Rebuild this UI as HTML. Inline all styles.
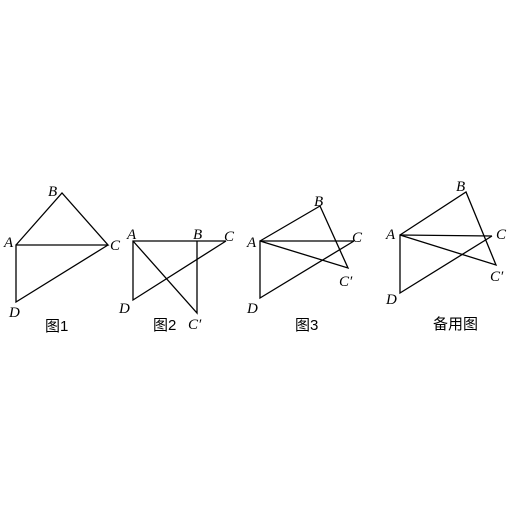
<!DOCTYPE html>
<html><head><meta charset="utf-8"><style>
html,body{margin:0;padding:0;background:#fff;}
svg{display:block;}
text{font-family:"Liberation Serif",serif;font-style:italic;font-size:15px;fill:#000;}
text.cap{font-family:"Liberation Sans","Noto Sans CJK SC",sans-serif;font-style:normal;font-size:15px;}
line,polyline{stroke:#000;stroke-width:1.3;fill:none;}
</style></head><body>
<svg width="512" height="512" viewBox="0 0 512 512">
<g>
<polyline points="16,245 62,193 108,245 16,245 16,302 108,245"/>
<text x="48" y="196">B</text><text x="4" y="247">A</text><text x="110" y="250">C</text><text x="9" y="317">D</text>
<text class="cap" x="45" y="331">图1</text>
</g>
<g>
<polyline points="226,241 133,241 133,300 226,241"/>
<polyline points="197,241 197,313 133,241"/>
<text x="127" y="239">A</text><text x="193" y="239">B</text><text x="224" y="241">C</text><text x="119" y="313">D</text><text x="188" y="329">C′</text>
<text class="cap" x="153" y="330">图2</text>
</g>
<g>
<polyline points="354,241 260,241 260,298 354,241"/>
<polyline points="260,241 320,206 348,268 260,241"/>
<text x="314" y="206">B</text><text x="247" y="247">A</text><text x="352" y="242">C</text><text x="247" y="313">D</text><text x="339" y="286">C′</text>
<text class="cap" x="295" y="330">图3</text>
</g>
<g>
<polyline points="492,236 400,235 400,293 492,236"/>
<polyline points="400,235 466,192 496,265 400,235"/>
<text x="456" y="191">B</text><text x="386" y="239">A</text><text x="496" y="239">C</text><text x="386" y="304">D</text><text x="490" y="281">C′</text>
<text class="cap" x="433" y="329">备用图</text>
</g>
</svg>
</body></html>
